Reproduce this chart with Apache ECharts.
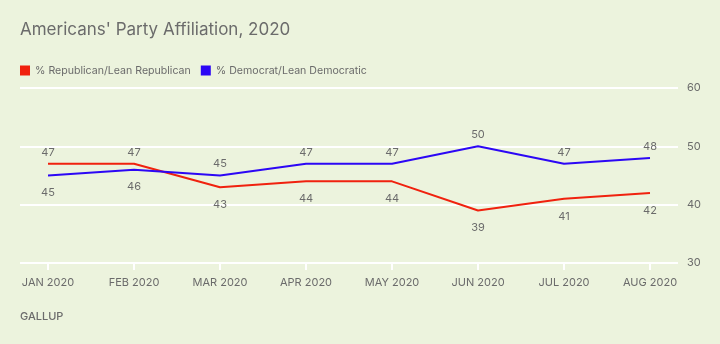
<!DOCTYPE html>
<html>
<head>
<meta charset="utf-8">
<script src="https://cdn.jsdelivr.net/npm/echarts@6/dist/echarts.min.js"></script>
<style>
  html, body { margin: 0; padding: 0; background: #ecf3dd; }
  #chart { width: 720px; height: 344px; }
</style>
</head>
<body>
<div id="chart"></div>
<script>
// Monthly party affiliation, 2020
const months = ['JAN 2020', 'FEB 2020', 'MAR 2020', 'APR 2020', 'MAY 2020', 'JUN 2020', 'JUL 2020', 'AUG 2020'];
const republican = [47, 47, 43, 44, 44, 39, 41, 42];
const democrat = [45, 46, 45, 47, 47, 50, 47, 48];
const yMin = 30, yMax = 60, yStep = 10;

const FONT = 'Inter, "Noto Sans", sans-serif';
const TEXT = '#6b6b6b';

// Label sits above the point for the higher series, below for the lower one
function points(values, other) {
  return values.map((v, i) => ({
    value: v,
    label: { position: v >= other[i] ? 'top' : 'bottom', distance: v >= other[i] ? 6 : 12 }
  }));
}

const chart = echarts.init(document.getElementById('chart'), null, { renderer: 'canvas' });

const lineLabel = { show: true, fontFamily: FONT, fontSize: 11, color: TEXT };

chart.setOption({
  backgroundColor: '#ecf3dd',
  animation: false,
  title: {
    text: "Americans' Party Affiliation, 2020",
    left: 15, top: 16,
    textStyle: { fontFamily: FONT, fontSize: 17, fontWeight: 'normal', color: TEXT }
  },
  legend: {
    left: 15, top: 60,
    icon: 'rect', itemWidth: 10, itemHeight: 10, itemGap: 10,
    textStyle: { fontFamily: FONT, fontSize: 10.6, color: TEXT },
    data: ['% Republican/Lean Republican', '% Democrat/Lean Democratic']
  },
  graphic: [{
    type: 'text', left: 20, top: 311,
    style: { text: 'GALLUP', font: '500 11px ' + FONT, fill: TEXT, letterSpacing: 1.5 }
  }],
  grid: [
    // plotting grid: first and last months inset from the gridline ends
    { left: 48, right: 70, top: 88, bottom: 81 },
    // background grid carrying the full-width gridlines and the right-hand scale
    { left: 20, right: 42, top: 88, bottom: 81 }
  ],
  xAxis: [
    {
      type: 'category', gridIndex: 0, data: months, boundaryGap: false,
      axisLine: { show: true, lineStyle: { color: '#ffffff', width: 2 } },
      axisTick: { show: true, length: 7, lineStyle: { color: '#ffffff', width: 2 } },
      axisLabel: { fontFamily: FONT, fontSize: 11, color: TEXT, margin: 14, interval: 0 },
      splitLine: { show: false },
      z: 5
    },
    { type: 'value', gridIndex: 1, show: false }
  ],
  yAxis: [
    { type: 'value', gridIndex: 0, min: yMin, max: yMax, interval: yStep, show: false, splitLine: { show: false } },
    {
      type: 'value', gridIndex: 1, position: 'right',
      min: yMin, max: yMax, interval: yStep,
      axisLine: { show: false },
      axisTick: { show: false },
      splitLine: { lineStyle: { color: '#ffffff', width: 2 } },
      axisLabel: { fontFamily: FONT, fontSize: 11, color: TEXT, margin: 9 }
    }
  ],
  series: [
    {
      name: '% Republican/Lean Republican', type: 'line',
      xAxisIndex: 0, yAxisIndex: 0,
      data: points(republican, democrat),
      color: '#f0210e', lineStyle: { width: 2 },
      symbol: 'circle', symbolSize: 0, showSymbol: true,
      label: lineLabel,
      labelLayout: { hideOverlap: false },
      z: 3
    },
    {
      name: '% Democrat/Lean Democratic', type: 'line',
      xAxisIndex: 0, yAxisIndex: 0,
      data: points(democrat, republican),
      color: '#2c07f5', lineStyle: { width: 2 },
      symbol: 'circle', symbolSize: 0, showSymbol: true,
      label: lineLabel,
      labelLayout: { hideOverlap: false },
      z: 3
    }
  ]
});
</script>
</body>
</html>
